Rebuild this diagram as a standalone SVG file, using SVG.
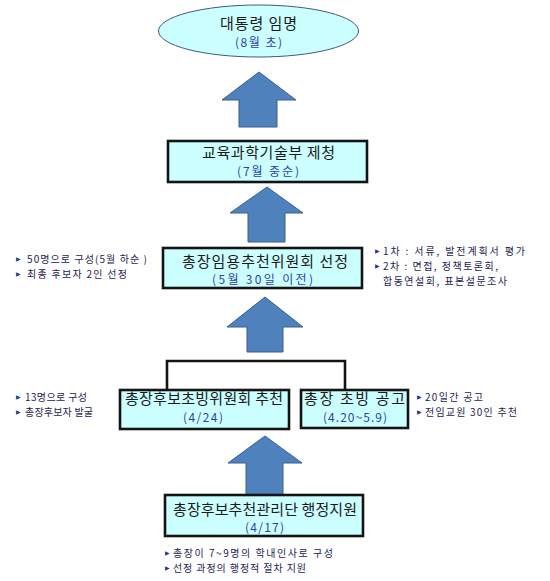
<svg xmlns="http://www.w3.org/2000/svg" width="550" height="581" viewBox="0 0 550 581">
<defs>
<style>
.box{fill:#CCFFFF;stroke:#141414;stroke-width:2.6}
.ell{fill:#CCFFFF;stroke:#3D5A80;stroke-width:1}
.arr{fill:#4F81BD;stroke:#3A5F8F;stroke-width:1}
.line{fill:none;stroke:#141414;stroke-width:2.6}
.main{font-family:"Noto Sans CJK KR","Noto Sans",sans-serif;font-size:15px;fill:#1a1a1a;text-anchor:middle}
.sub{font-family:"Noto Sans CJK KR","Noto Sans",sans-serif;font-size:12px;fill:#2A3FA8;text-anchor:middle}
.note{font-family:"Noto Sans CJK KR","Noto Sans",sans-serif;font-size:10px;fill:#1E2450}
.bul{font-family:"DejaVu Sans",sans-serif;font-size:6px;fill:#1F3A93}
</style>
</defs>
<rect width="550" height="581" fill="#ffffff"/>
<g id="connectors">
<path class="arr" d="M259,72 L296,100 L277,100 L277,127 L239,127 L239,100 L222,100 Z"/>
<path class="arr" d="M267,187 L303,213 L285,213 L285,242 L248,242 L248,213 L230,213 Z"/>
<path class="arr" d="M265,297 L303,327 L283,327 L283,352 L247,352 L247,327 L227,327 Z"/>
<path class="arr" d="M265,436 L302,463 L283,463 L283,495 L246,495 L246,463 L228,463 Z"/>
<path class="line" d="M167,390 L167,361 L345,361 L345,390"/>
</g>
<g id="node-president">
<ellipse class="ell" cx="258.5" cy="31" rx="100" ry="26"/>
<text class="main" x="258.5" y="29" font-size="14" textLength="77">대통령 임명</text>
<text class="sub" x="258.5" y="47" textLength="47">(8월 초)</text>
</g>
<g id="node-ministry">
<rect class="box" x="168" y="141" width="199" height="41"/>
<text class="main" x="268.5" y="158" textLength="133">교육과학기술부 제청</text>
<text class="sub" x="268" y="176" textLength="62">(7월 중순)</text>
</g>
<g id="node-committee">
<rect class="box" x="163" y="248" width="199" height="40"/>
<text class="main" x="265" y="267" font-size="16" textLength="166">총장임용추천위원회 선정</text>
<text class="sub" x="262.5" y="284" font-size="12.5" textLength="101">(5월 30일 이전)</text>
</g>
<g id="node-invite-committee">
<rect class="box" x="120" y="390" width="169" height="39"/>
<text class="main" x="204" y="404" textLength="158">총장후보초빙위원회 추천</text>
<text class="sub" x="203" y="422" textLength="40">(4/24)</text>
</g>
<g id="node-notice">
<rect class="box" x="301" y="390" width="107" height="38"/>
<text class="main" x="354.5" y="404" textLength="101">총장 초빙 공고</text>
<text class="sub" x="355" y="422" textLength="64">(4.20~5.9)</text>
</g>
<g id="node-admin">
<rect class="box" x="165" y="495" width="198" height="41"/>
<text class="main" x="265" y="515" font-size="16" textLength="184">총장후보추천관리단 행정지원</text>
<text class="sub" x="264.5" y="532" textLength="39">(4/17)</text>
</g>
<g id="notes-committee-left">
<text class="bul" x="16" y="261">▶</text>
<text class="note" x="27" y="263" textLength="120">50명으로 구성(5월 하순 )</text>
<text class="bul" x="16" y="276">▶</text>
<text class="note" x="27" y="278" textLength="100">최종 후보자 2인 선정</text>
</g>
<g id="notes-committee-right">
<text class="bul" x="375" y="253">▶</text>
<text class="note" x="383" y="255" textLength="142">1차 : 서류, 발전계획서 평가</text>
<text class="bul" x="375" y="268">▶</text>
<text class="note" x="383" y="270" textLength="115">2차 : 면접, 정책토론회,</text>
<text class="note" x="383" y="285" textLength="124">합동연설회, 표본설문조사</text>
</g>
<g id="notes-invite-left">
<text class="bul" x="16" y="399">▶</text>
<text class="note" x="25" y="401" textLength="62">13명으로 구성</text>
<text class="bul" x="16" y="414">▶</text>
<text class="note" x="25" y="416" textLength="68">총장후보자 발굴</text>
</g>
<g id="notes-notice-right">
<text class="bul" x="417" y="399">▶</text>
<text class="note" x="425" y="401" textLength="58">20일간 공고</text>
<text class="bul" x="417" y="414">▶</text>
<text class="note" x="425" y="416" textLength="92">전임교원 30인 추천</text>
</g>
<g id="notes-admin">
<text class="bul" x="165" y="555">▶</text>
<text class="note" x="173" y="557" textLength="160">총장이 7~9명의 학내인사로 구성</text>
<text class="bul" x="165" y="570">▶</text>
<text class="note" x="173" y="572" textLength="133">선정 과정의 행정적 절차 지원</text>
</g>
</svg>
